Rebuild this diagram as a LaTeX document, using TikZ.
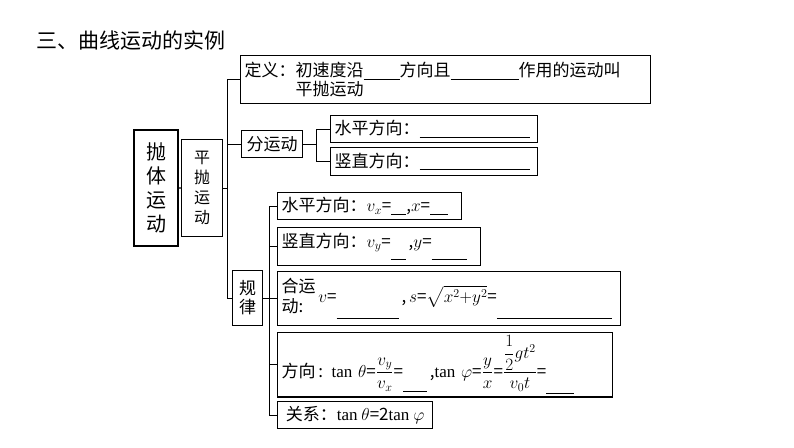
\documentclass[tikz,border=0pt]{standalone}
\usepackage{amsmath}
\usepackage{fontspec}
\setmainfont{Liberation Serif}
\newfontfamily\cjk{Noto Sans CJK SC}
\newcommand{\blank}[1]{\rule[-3pt]{#1pt}{0.8pt}}
\newcommand{\tn}{{\rmfamily tan}}
\begin{document}
\begin{tikzpicture}[x=1pt,y=-1pt,
  box/.style={draw,line width=1.2pt,anchor=north west,inner sep=3pt,align=left,font=\cjk\fontsize{17}{19}\selectfont},
  ln/.style={line width=1.2pt}]
\useasboundingbox (0,0) rectangle (794,447);
\node[anchor=west,font=\cjk\fontsize{21}{24}\selectfont] (title) at (33,40) {三、曲线运动的实例};
\node[box,line width=2pt,minimum width=44,minimum height=116,align=center,font=\cjk\fontsize{20}{24}\selectfont] (pt) at (133,129) {抛\\体\\运\\动};
\node[box,minimum width=41,minimum height=97,align=center,font=\cjk\fontsize{16}{20}\selectfont] (pp) at (181,139) {平\\抛\\运\\动};
\node[box,minimum width=410,minimum height=48,text width=402] (def) at (240,55) {定义：初速度沿\blank{36}方向且\blank{68}作用的运动叫\\\hspace{3em}平抛运动};
\node[box,minimum width=61,minimum height=27] (fen) at (241,130) {分运动};
\node[box,minimum width=207,minimum height=27,text width=199] (sp) at (330,115) {水平方向：\blank{110}};
\node[box,minimum width=207,minimum height=28,text width=199] (sz) at (330,147) {竖直方向：\blank{110}};
\node[box,minimum width=30,minimum height=55,align=center] (gl) at (232,270) {规\\律};
\node[box,minimum width=184,minimum height=27,text width=176] (a1) at (277,192) {水平方向：$v_x$=\blank{15},$x$=\blank{18}};
\node[box,minimum width=203,minimum height=38,text width=195] (a2) at (277,227) {竖直方向：$v_y$=\raisebox{-10pt}{\blank{15}}\,,$y$=\raisebox{-10pt}{\blank{35}}};
\node[box,minimum width=343,minimum height=54,text width=335] (a3) at (277,271) {\begin{tabular}{@{}l@{}}合运\\动:\end{tabular}\,$v$=\raisebox{-14pt}{\blank{62}}\,,\,$s$=$\sqrt{x^2{+}y^2}$=\raisebox{-14pt}{\blank{115}}};
\node[box,minimum width=335,minimum height=60,text width=327] (a4) at (277,332) {方向\,: \tn\ $\theta$=$\dfrac{v_y}{v_x}$=\raisebox{-12pt}{\blank{24}}\,,\tn\ $\varphi$=$\dfrac{y}{x}$=$\dfrac{\dfrac12 gt^2}{v_0t}$=\raisebox{-14pt}{\blank{28}}};
\node[box,minimum width=155,minimum height=27] (a5) at (277,401) {关系：\tn\ $\theta$=2\tn\ $\varphi$};
\draw[ln] (pt.east) -- (pp.west);
\draw[ln] (pp.east) -- ++(4,0) coordinate (j1);
\draw[ln] (j1) |- (def.west);
\draw[ln] (j1) |- (fen.west);
\draw[ln] (j1) |- (gl.west);
\draw[ln] (fen.east) -- ++(13,0) coordinate (j2);
\draw[ln] (j2) |- (sp.west);
\draw[ln] (j2) |- (sz.west);
\draw[ln] (gl.east) -- ++(6,0) coordinate (j3);
\foreach \n in {a1,a2,a3,a4,a5} \draw[ln] (j3) |- (\n.west);
\end{tikzpicture}
\end{document}
